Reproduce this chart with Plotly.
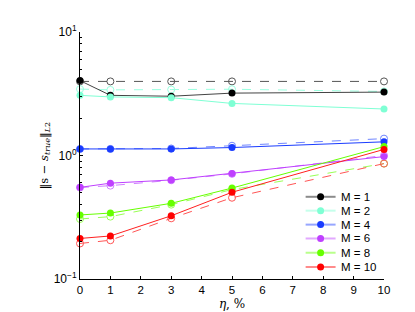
import plotly.graph_objects as go

eta = [0, 1, 3, 5, 10]
labels = ["M = 1", "M = 2", "M = 4", "M = 6", "M = 8", "M = 10"]
colors = ["#000000", "#7fffd4", "#1a3cff", "#bf40ff", "#66ff00", "#ff0000"]
dash_colors = ["#555555", "#99ffe0", "#6f85ff", "#d080ff", "#99ff55", "#ff5555"]
line_colors = ["#444444", "#7fffd4", "#1a3cff", "#bf40ff", "#66ff00", "#ff2020"]

solid_vals = [
    [4.04, 3.07, 3.02, 3.20, 3.26],
    [3.07, 2.98, 2.94, 2.64, 2.38],
    [1.13, 1.13, 1.13, 1.16, 1.29],
    [0.552, 0.597, 0.634, 0.716, 0.98],
    [0.33, 0.342, 0.41, 0.545, 1.18],
    [0.213, 0.223, 0.325, 0.504, 1.12],
]
dashed_vals = [
    [3.98, 3.98, 3.98, 3.98, 3.98],
    [3.45, 3.40, 3.42, 3.44, 3.30],
    [1.13, 1.13, 1.14, 1.20, 1.37],
    [0.55, 0.57, 0.63, 0.71, 1.0],
    [0.306, 0.32, 0.40, 0.53, 0.86],
    [0.194, 0.206, 0.31, 0.455, 0.86],
]

ytickvals = [0.1, 1, 10]
yticktext = ["10<sup>−1</sup>", "10<sup>0</sup>", "10<sup>1</sup>"]
xtickvals = [0, 1, 2, 3, 4, 5, 6, 7, 8, 9, 10]

W, H = 415, 312
ML, MR, MT, MB = 72, 38.5, 23.5, 35.5
PW, PH = W - ML - MR, H - MT - MB


def px_to_paper(px, py):
    return (px - ML) / PW, (H - MB - py) / PH


fig = go.Figure()
for lab, dc, dv in zip(labels, dash_colors, dashed_vals):
    fig.add_trace(go.Scatter(
        x=eta, y=dv, mode="lines+markers", showlegend=False, cliponaxis=False,
        line=dict(color=dc, width=1, dash="dash"),
        marker=dict(symbol="circle-open", size=7, color=dc, line=dict(width=1, color=dc)),
    ))
for lab, c, lc, sv in zip(labels, colors, line_colors, solid_vals):
    fig.add_trace(go.Scatter(
        x=eta, y=sv, mode="lines+markers", name=lab, cliponaxis=False, showlegend=False,
        line=dict(color=lc, width=1),
        marker=dict(symbol="circle", size=7, color=c),
    ))

# manual legend (layout decoration)
row_y = [192.3, 206.5, 220.8, 235.0, 249.6, 264.2]
shapes, annotations = [], []
for lab, c, ry in zip(labels, colors, row_y):
    x0, yy = px_to_paper(298, ry)
    x1, _ = px_to_paper(328, ry)
    xm, _ = px_to_paper(313, ry)
    xt, _ = px_to_paper(331, ry)
    shapes.append(dict(type="line", xref="paper", yref="paper", x0=x0, x1=x1, y0=yy, y1=yy,
                       line=dict(color=c, width=2), opacity=0.45))
    shapes.append(dict(type="circle", xref="paper", yref="paper", xsizemode="pixel",
                       ysizemode="pixel", xanchor=xm, yanchor=yy, x0=-3.5, x1=3.5,
                       y0=-3.5, y1=3.5, fillcolor=c, line=dict(width=0)))
    annotations.append(dict(text=lab, xref="paper", yref="paper", x=xt, y=yy,
                            xanchor="left", yanchor="middle", showarrow=False,
                            font=dict(size=11.5, color="#000")))

# y-axis title as rotated annotation
tx, ty = px_to_paper(36, 150)
annotations.append(dict(text="‖s − <i>s</i><sub><i>true</i></sub>‖<sub><i>L</i>2</sub>",
                        xref="paper", yref="paper", x=tx, y=ty, textangle=-90,
                        xanchor="center", yanchor="middle", showarrow=False,
                        font=dict(family="DejaVu Serif, serif", size=11.5, color="#000")))

fig.update_layout(
    width=W, height=H,
    margin=dict(l=ML, r=MR, t=MT, b=MB),
    paper_bgcolor="white", plot_bgcolor="white",
    font=dict(family="Liberation Sans, Arial, sans-serif", size=11, color="#000"),
    showlegend=False,
    shapes=shapes, annotations=annotations,
    xaxis=dict(range=[0, 10], tickvals=xtickvals, showline=True, linecolor="#000",
               linewidth=1, ticks="inside", ticklen=3, tickcolor="#000",
               showgrid=False, zeroline=False, tickfont=dict(size=11.5),
               title=dict(text="<i>η</i>, %", standoff=4,
                          font=dict(family="DejaVu Serif, serif", size=12))),
    yaxis=dict(type="log", range=[-1, 1], tickvals=ytickvals, ticktext=yticktext,
               showline=True, linecolor="#000", linewidth=1, ticks="inside",
               ticklen=3, tickcolor="#000", showgrid=False, zeroline=False,
               tickfont=dict(size=12),
               minor=dict(tickvals=[0.2, 0.3, 0.4, 0.5, 0.6, 0.7, 0.8, 0.9,
                                    2, 3, 4, 5, 6, 7, 8, 9],
                          ticks="inside", ticklen=2, tickcolor="#000", showgrid=False)),
)

fig.write_html("out.html")
